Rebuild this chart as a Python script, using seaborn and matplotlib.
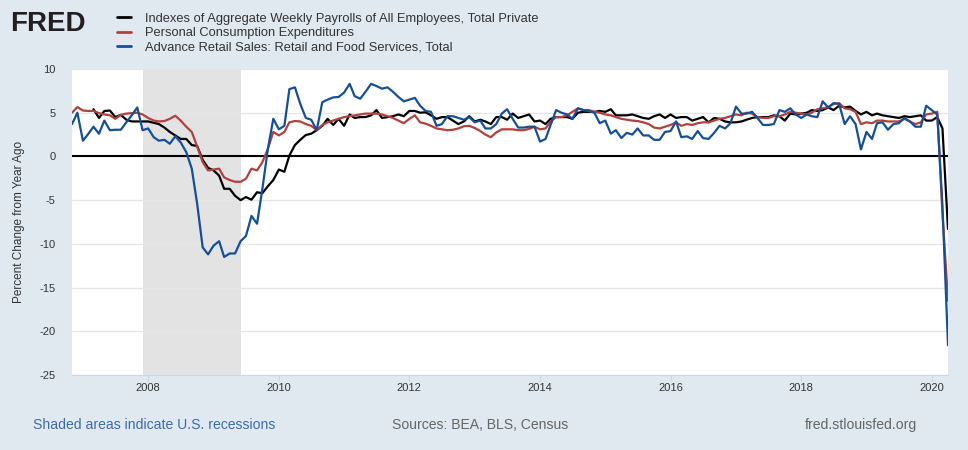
import numpy as np
import pandas as pd
import matplotlib
matplotlib.use("Agg")
import matplotlib.pyplot as plt
import seaborn as sns

# ---------------- data (monthly, Nov 2006 .. Apr 2020) ----------------
months = pd.date_range("2006-11-01", "2020-04-01", freq="MS")

nan = np.nan
payrolls = [
    nan, nan,
    nan, nan, 5.4, 4.4, 5.2, 5.25, 4.5, 4.75, 4.2, 4.0, 4.0, 4.0,
    4.0, 3.85, 3.7, 3.3, 2.8, 2.4, 2.0, 2.0, 1.3, 1.2, -0.4, -1.3,
    -1.6, -2.2, -3.7, -3.7, -4.5, -5.0, -4.65, -4.95, -4.1, -4.2, -3.4, -2.7,
    -1.5, -1.75, 0.1, 1.3, 1.9, 2.45, 2.6, 3.0, 3.5, 4.3, 3.6, 4.3,
    3.5, 4.8, 4.4, 4.5, 4.5, 4.7, 5.3, 4.4, 4.5, 4.6, 4.8, 4.6,
    5.2, 5.2, 5.0, 5.05, 4.7, 4.3, 4.5, 4.5, 4.1, 3.7, 4.0, 4.6,
    4.0, 4.2, 4.0, 3.7, 4.5, 4.5, 4.2, 4.9, 4.4, 4.6, 4.8, 4.0,
    4.1, 3.7, 4.3, 4.5, 4.5, 4.5, 4.3, 5.0, 5.1, 5.1, 5.1, 5.2,
    5.1, 5.4, 4.7, 4.7, 4.7, 4.8, 4.6, 4.4, 4.3, 4.6, 4.8, 4.4,
    4.8, 4.4, 4.5, 4.5, 4.1, 4.3, 4.5, 3.9, 4.4, 4.3, 4.0, 3.9,
    3.9, 4.0, 4.2, 4.4, 4.5, 4.5, 4.5, 4.7, 4.6, 4.1, 4.9, 4.8,
    4.9, 5.0, 5.3, 5.2, 5.3, 5.6, 5.3, 5.8, 5.6, 5.7, 5.2, 4.8,
    5.1, 4.7, 4.9, 4.7, 4.6, 4.5, 4.4, 4.6, 4.5, 4.6, 4.7, 4.1,
    4.1, 4.5, 3.2, -8.3,
]
pce = [
    5.0, 5.65,
    5.25, 5.2, 5.2, 4.95, 4.8, 4.7, 4.3, 4.75, 4.9, 4.95, 5.0, 4.8,
    4.4, 4.1, 4.0, 4.05, 4.3, 4.65, 4.1, 3.4, 2.8, 1.15, -0.65, -1.6,
    -1.5, -1.4, -2.4, -2.7, -2.9, -2.9, -2.55, -1.4, -1.6, -0.65, 0.9, 2.8,
    2.4, 2.8, 3.9, 4.05, 4.0, 3.7, 3.5, 3.0, 3.6, 3.9, 4.1, 4.3,
    4.5, 4.6, 4.7, 4.8, 4.9, 4.9, 4.9, 4.8, 4.6, 4.4, 4.1, 3.8,
    4.3, 4.7, 3.9, 3.75, 3.5, 3.2, 3.1, 3.0, 3.05, 3.2, 3.45, 3.5,
    3.25, 2.9, 2.5, 2.2, 2.75, 3.1, 3.1, 3.1, 3.0, 3.0, 3.15, 3.4,
    3.1, 3.2, 4.0, 4.5, 4.5, 4.7, 5.1, 5.5, 5.3, 5.3, 5.1, 5.0,
    4.8, 4.7, 4.5, 4.3, 4.2, 4.1, 4.05, 3.9, 3.7, 3.3, 3.2, 3.4,
    3.6, 3.9, 3.5, 3.7, 3.6, 3.8, 3.9, 3.9, 4.1, 4.3, 4.4, 4.6,
    4.8, 4.7, 5.0, 4.9, 4.5, 4.4, 4.4, 4.6, 4.6, 4.8, 5.1, 5.0,
    4.9, 4.8, 5.0, 5.4, 5.5, 5.65, 6.0, 6.1, 5.5, 5.4, 5.1, 3.7,
    3.9, 3.8, 4.1, 4.1, 4.0, 4.0, 4.0, 4.3, 4.0, 3.7, 3.9, 4.8,
    4.9, 5.1, -6.5, -16.5,
]
retail = [
    3.7, 5.0,
    1.8, 2.6, 3.4, 2.6, 4.1, 3.0, 3.05, 3.05, 3.9, 4.7, 5.6, 3.0,
    3.2, 2.2, 1.8, 1.9, 1.45, 2.3, 1.6, 0.5, -1.4, -5.4, -10.4, -11.2,
    -10.2, -9.7, -11.5, -11.1, -11.1, -9.7, -9.1, -6.8, -7.7, -3.7, 0.9, 4.3,
    3.1, 3.5, 7.7, 7.9, 6.0, 4.4, 4.2, 3.0, 6.2, 6.5, 6.75, 6.8,
    7.3, 8.3, 6.9, 6.6, 7.4, 8.3, 8.05, 7.75, 7.9, 7.4, 6.8, 6.3,
    6.5, 6.7, 5.8, 5.2, 5.1, 3.5, 3.7, 4.6, 4.6, 4.4, 4.2, 4.5,
    3.9, 4.1, 3.2, 3.2, 3.7, 4.9, 5.4, 4.3, 3.3, 3.3, 3.4, 3.4,
    1.7, 2.0, 3.6, 5.3, 5.0, 4.8, 4.3, 5.5, 5.3, 5.2, 5.0, 3.8,
    4.1, 2.6, 3.0, 2.1, 2.7, 2.5, 3.2, 2.4, 2.4, 1.9, 1.9, 2.8,
    2.9, 4.0, 2.2, 2.3, 2.0, 2.9, 2.1, 2.0, 2.7, 3.5, 3.2, 3.8,
    5.7, 4.9, 4.9, 5.1, 4.4, 3.6, 3.6, 3.7, 5.3, 5.1, 5.5, 4.8,
    4.4, 4.8, 4.6, 4.5, 6.3, 5.6, 6.1, 6.0, 3.7, 4.6, 3.7, 0.8,
    2.8, 2.0, 3.8, 3.9, 3.05, 3.7, 3.8, 4.4, 4.0, 3.4, 3.4, 5.8,
    5.3, 4.8, -5.7, -21.6,
]

series_names = [
    "Indexes of Aggregate Weekly Payrolls of All Employees, Total Private",
    "Personal Consumption Expenditures",
    "Advance Retail Sales: Retail and Food Services, Total",
]
series_colors = ["#000000", "#b0413e", "#154f94"]
recession = ("2007-12-01", "2009-06-01")
x_tick_years = [2008, 2010, 2012, 2014, 2016, 2018, 2020]
y_ticks = [10, 5, 0, -5, -10, -15, -20, -25]

assert len(payrolls) == len(pce) == len(retail) == len(months)

wide = pd.DataFrame({"date": months, series_names[0]: payrolls,
                     series_names[1]: pce, series_names[2]: retail})
long = wide.melt(id_vars="date", var_name="series", value_name="value")

# ---------------- style ----------------
sns.set_theme(style="white")
plt.rcParams["font.family"] = ["Liberation Sans", "DejaVu Sans"]

BG = "#e1e9f0"
W, H = 968, 450
fig = plt.figure(figsize=(W / 100, H / 100), dpi=100, facecolor=BG)
L, R, T, B = 72, 948, 69, 375
ax = fig.add_axes([L / W, 1 - B / H, (R - L) / W, (B - T) / H])
ax.set_facecolor("white")

ax.axvspan(pd.Timestamp(recession[0]), pd.Timestamp(recession[1]),
           color="#e3e3e3", lw=0, zorder=0)
ax.axhline(0, color="black", lw=1.5, zorder=1.5)

sns.lineplot(data=long, x="date", y="value", hue="series",
             hue_order=series_names, palette=dict(zip(series_names, series_colors)),
             linewidth=1.6, ax=ax, zorder=2)

handles, labels = ax.get_legend_handles_labels()
ax.get_legend().remove()

ax.set_ylim(-25, 10)
ax.set_xlim(months[0], months[-1])
ax.set_yticks(y_ticks)
ax.set_yticklabels([str(v) for v in y_ticks])
ax.set_xticks([pd.Timestamp(f"{y}-01-01") for y in x_tick_years])
ax.set_xticklabels([str(y) for y in x_tick_years])

ax.yaxis.grid(True, color="#e6e6e6", lw=0.9)
ax.xaxis.grid(False)
ax.set_axisbelow(True)
for s in ["top", "right", "left"]:
    ax.spines[s].set_visible(False)
ax.spines["bottom"].set_color("#ccd6eb")
ax.spines["bottom"].set_linewidth(0.8)

ax.tick_params(axis="y", length=0, labelsize=8, labelcolor="#333333", pad=12)
ax.tick_params(axis="x", length=4, width=0.8, color="#ccd6eb", labelsize=8,
               labelcolor="#333333", pad=1.5, direction="out", bottom=True)

ax.set_xlabel("")
ax.set_ylabel("Percent Change from Year Ago", fontsize=8.5, color="#333333")
ax.yaxis.set_label_coords(-(L - 25) / (R - L), 0.5)

# legend at top
leg = fig.legend(handles, labels, loc="upper left",
                 bbox_to_anchor=(117 / W, 1 - 12.5 / H), frameon=False,
                 fontsize=9.3, handlelength=1.1, handletextpad=1.1,
                 labelspacing=0.2, borderpad=0, borderaxespad=0,
                 labelcolor="#333333")
for line in leg.get_lines():
    line.set_linewidth(2.0)

# FRED wordmark
fig.text(10 / W, 1 - 31 / H, "FRED", fontsize=20, fontweight="bold",
         color="#231f20", va="baseline", ha="left")

# footer
fig.text(33 / W, 1 - 425 / H, "Shaded areas indicate U.S. recessions",
         fontsize=10.1, color="#3d6ca6", va="center", ha="left")
fig.text(392 / W, 1 - 425 / H, "Sources: BEA, BLS, Census",
         fontsize=10.1, color="#666666", va="center", ha="left")
fig.text(917 / W, 1 - 425 / H, "fred.stlouisfed.org",
         fontsize=10.1, color="#666666", va="center", ha="right")

fig.savefig("out.png", dpi=100, facecolor=BG)
